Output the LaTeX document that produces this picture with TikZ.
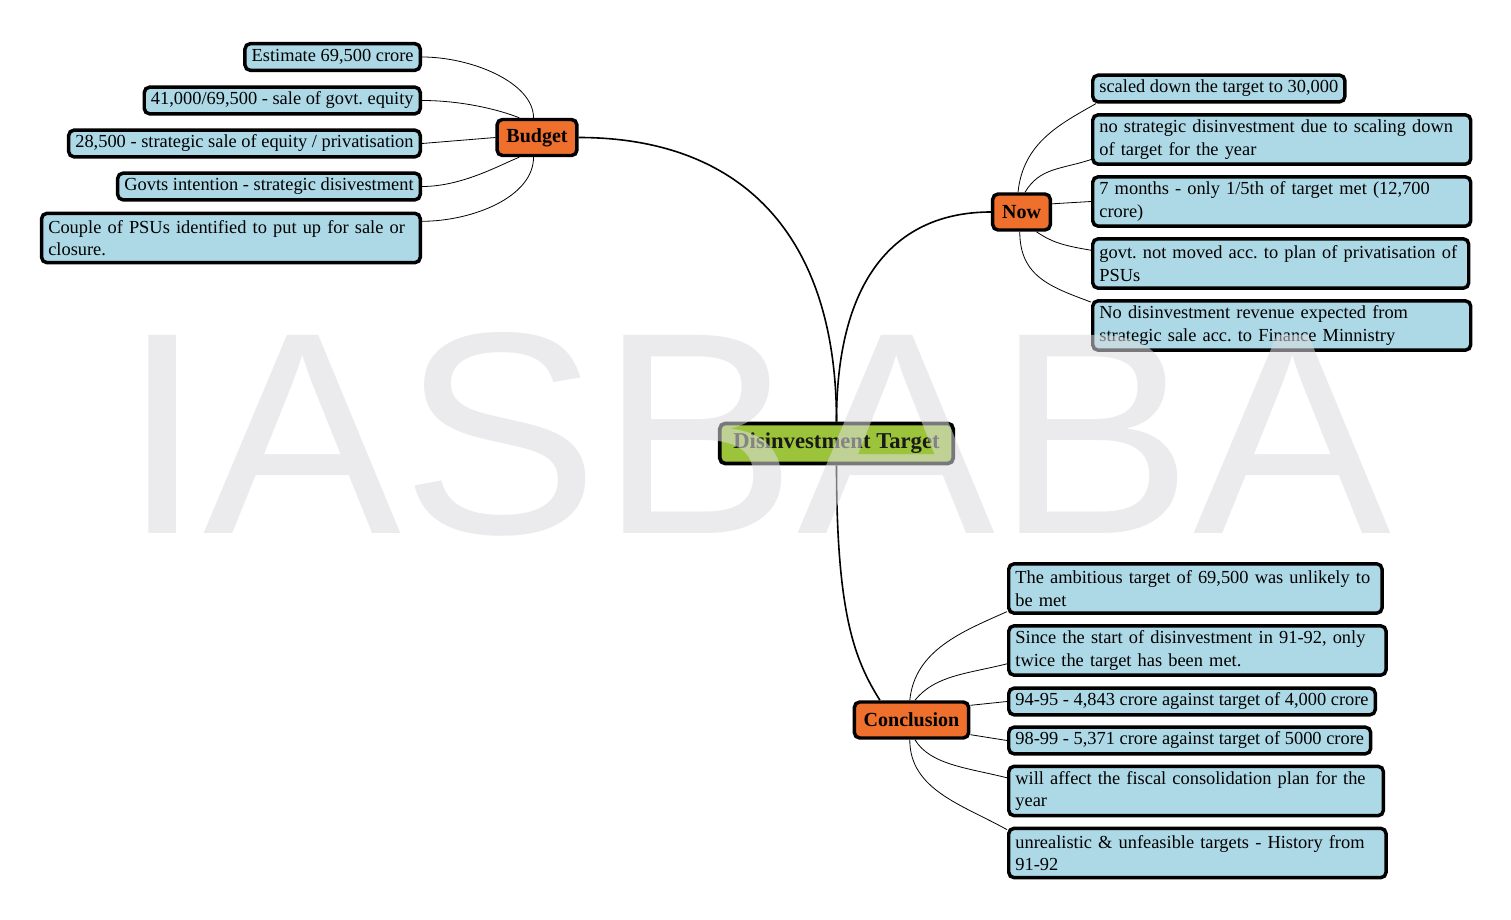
\documentclass[tikz,border=0pt]{standalone}
\usepackage{fontspec}
\setmainfont{Liberation Serif}
\newfontfamily\markfont{Liberation Sans}
\usetikzlibrary{calc}
\definecolor{boxblue}{HTML}{ADD8E6}
\definecolor{topic}{HTML}{EF6F2C}
\definecolor{rootgreen}{HTML}{9CC43A}
\definecolor{mark}{HTML}{DCDCE0}
\tikzset{
  leaf/.style={draw=black, line width=2.6pt, rounded corners=4pt, fill=boxblue,
    font=\fontsize{13.8}{16.9}\selectfont\frenchspacing, inner xsep=5pt, inner ysep=3pt,
    minimum height=20pt, align=left},
  wide/.style={leaf, text width=#1, minimum height=37pt},
  branch/.style={draw=black, line width=2.6pt, rounded corners=4pt, fill=topic,
    font=\fontsize{15}{18}\selectfont\bfseries, inner xsep=7pt, minimum height=27pt},
  root/.style={draw=black, line width=2.8pt, rounded corners=4pt, fill=rootgreen,
    text=black!90, font=\fontsize{17}{20}\selectfont\bfseries, inner xsep=6pt,
    minimum width=175pt, minimum height=30pt},
  trunk/.style={draw=black, line width=1.2pt},
  twig/.style={draw=black, line width=0.6pt},
}

\begin{document}
\begin{tikzpicture}[x=0.75pt, y=-0.75pt]
  \fill[white] (0,0) rectangle (1511,920);
  \useasboundingbox (0,0) rectangle (1511,920);

  % main topics
  \node[root] (root) at (836.5,443.5) {Disinvestment Target};
  \node[branch] (budget) at (537,137.5) {Budget};
  \node[branch] (now) at (1021.5,212) {Now};
  \node[branch] (conc) at (911.5,720) {Conclusion};

  % budget
  \node[leaf, anchor=east] (b1) at (422,57) {Estimate 69,500 crore};
  \node[leaf, anchor=east] (b2) at (422,100.5) {41,000/69,500 - sale of govt. equity};
  \node[leaf, anchor=east] (b3) at (422,143.5) {28,500 - strategic sale of equity / privatisation};
  \node[leaf, anchor=east] (b4) at (422,186.5) {Govts intention - strategic disivestment};
  \node[wide=274pt, anchor=east] (b5) at (422,238) {Couple of PSUs identified to put up for sale or\\closure.};

  % now
  \node[leaf, anchor=west] (n1) at (1091,88.5) {scaled down the target to 30,000};
  \node[wide=273.5pt, anchor=west] (n2) at (1091,139.5) {no strategic disinvestment due to scaling down\\of target for the year};
  \node[wide=273.5pt, anchor=west] (n3) at (1091,201.5) {7 months - only 1/5th of target met (12,700\\crore)};
  \node[wide=272pt, anchor=west] (n4) at (1091,263.5) {govt. not moved acc. to plan of privatisation of\\PSUs};
  \node[wide=273.5pt, anchor=west] (n5) at (1091,325.5) {No disinvestment revenue expected from\\strategic sale acc. to Finance Minnistry};

  % conclusion
  \node[wide=270pt, anchor=west] (c1) at (1007,588.5) {The ambitious target of 69,500 was unlikely to\\be met};
  \node[wide=273pt, anchor=west] (c2) at (1007,650.5) {Since the start of disinvestment in 91-92, only\\twice the target has been met.};
  \node[leaf, anchor=west] (c3) at (1007,701.5) {94-95 - 4,843 crore against target of 4,000 crore};
  \node[leaf, anchor=west] (c4) at (1007,740.5) {98-99 - 5,371 crore against target of 5000 crore};
  \node[wide=271pt, anchor=west] (c5) at (1007,791) {will affect the fiscal consolidation plan for the\\year};
  \node[wide=273pt, anchor=west] (c6) at (1007,853) {unrealistic \& unfeasible targets - History from\\91-92};

  % trunks
  \draw[trunk] (root.north) .. controls +(0,-190) and +(160,0) .. (budget.east);
  \draw[trunk] (root.north) .. controls +(0,-150) and +(-90,0) .. (now.west);
  \draw[trunk] (root.south) .. controls +(0,150) and +(-25,-40) .. (conc.148);

  % twigs
  \draw[twig] (budget.100) .. controls +(0,-35) and +(50,0) .. (b1.east);
  \draw[twig] (budget.132) .. controls +(-20,-8) and +(40,0) .. (b2.east);
  \draw[twig] (budget.west) -- (b3.east);
  \draw[twig] (budget.228) .. controls +(-20,8) and +(40,0) .. (b4.east);
  \draw[twig] (budget.260) .. controls +(0,40) and +(50,0) .. (b5.5);

  \draw[twig] (now.100) .. controls +(5,-50) and +(-35,20) .. (n1.187);
  \draw[twig] (now.80) .. controls +(15,-25) and +(-30,10) .. (n2.186);
  \draw[twig] (now.15) -- (n3.west);
  \draw[twig] (now.307) .. controls +(15,10) and +(-30,-5) .. (n4.176);
  \draw[twig] (now.265) .. controls +(0,45) and +(-40,-15) .. (n5.173);

  \draw[twig] (conc.95) .. controls +(5,-50) and +(-45,20) .. (c1.187);
  \draw[twig] (conc.80) .. controls +(20,-25) and +(-40,10) .. (c2.184);
  \draw[twig] (conc.14) -- (c3.west);
  \draw[twig] (conc.-14) -- (c4.west);
  \draw[twig] (conc.280) .. controls +(15,25) and +(-40,-10) .. (c5.176);
  \draw[twig] (conc.265) .. controls +(0,50) and +(-45,-25) .. (c6.173);

  % watermark
  \node[anchor=base west, inner sep=0pt, text=mark, text opacity=0.55,
    font=\markfont\fontsize{216}{216}\selectfont] (wm) at (121,533) {\scalebox{1.03}[1]{IASBABA}};
\end{tikzpicture}
\end{document}
